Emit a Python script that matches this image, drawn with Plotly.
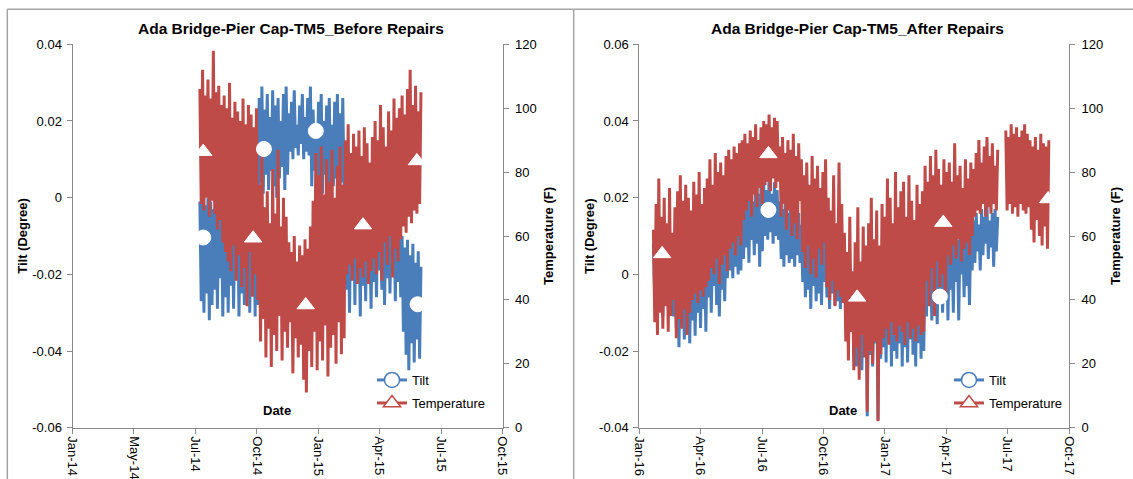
import pandas as pd
import plotly.graph_objects as go

# ---------------- data: before repairs (one reading every 2 days, alternating daily high / low) ----------------
before_start = "2014-07-09"
before_step = "2D"
before_tilt = [
    -0.001, -0.027, 0.001, -0.030, -0.002, -0.025, 0.000, -0.032, -0.001, -0.028,
    -0.003, -0.024, 0.001, -0.029, -0.002, -0.021, -0.004, -0.031, 0.002, -0.026,
    -0.001, -0.030, -0.003, -0.023, -0.002, -0.029, -0.004, -0.021, 0.000, -0.031,
    -0.003, -0.025, -0.001, -0.028, -0.004, -0.020, -0.002, -0.030, 0.000, -0.024,
    -0.003, -0.031, 0.022, -0.028, 0.026, 0.004, 0.029, 0.001, 0.023, 0.006,
    0.027, 0.002, 0.021, 0.007, 0.028, 0.003, 0.024, 0.000, 0.026, 0.005,
    0.020, 0.008, 0.027, 0.002, 0.029, 0.006, 0.022, 0.012, 0.025, 0.010,
    0.028, 0.013, 0.019, 0.011, 0.024, 0.014, 0.027, 0.010, 0.021, 0.012,
    0.026, 0.011, 0.029, 0.003, 0.023, 0.007, 0.018, 0.002, 0.025, 0.005,
    0.027, 0.001, 0.020, 0.006, 0.024, 0.000, 0.026, 0.004, 0.019, 0.003,
    0.025, 0.005, 0.027, 0.001, 0.022, 0.004, 0.026, 0.002, -0.003, -0.024,
    0.001, -0.030, -0.005, -0.021, -0.002, -0.028, 0.002, -0.019, -0.006, -0.031,
    -0.001, -0.023, -0.004, -0.027, 0.000, -0.020, -0.007, -0.029, -0.003, -0.022,
    -0.005, -0.026, -0.002, -0.019, -0.008, -0.024, -0.003, -0.028, -0.006, -0.021,
    -0.001, -0.025, -0.007, -0.018, -0.004, -0.027, -0.002, -0.022, -0.008, -0.026,
    -0.010, -0.035, -0.013, -0.041, -0.011, -0.045, -0.015, -0.038, -0.012, -0.043,
    -0.017, -0.037, -0.014, -0.042, -0.018,
]
before_temp = [
    106, 70, 112, 68, 104, 72, 109, 66, 103, 71,
    118, 67, 105, 62, 107, 65, 101, 58, 104, 55,
    100, 52, 108, 49, 97, 57, 102, 46, 99, 54,
    96, 44, 103, 50, 95, 38, 101, 55, 98, 41,
    94, 48, 100, 40, 76, 27, 86, 34, 69, 22,
    74, 31, 64, 19, 81, 29, 67, 24, 87, 35,
    63, 21, 72, 30, 66, 25, 58, 33, 55, 17,
    60, 28, 52, 22, 57, 26, 54, 15, 59, 11,
    56, 24, 63, 19, 71, 30, 86, 18, 79, 27,
    88, 21, 73, 32, 84, 16, 77, 25, 87, 29,
    72, 20, 82, 33, 88, 23, 76, 28, 90, 48,
    95, 51, 86, 46, 92, 53, 88, 45, 93, 50,
    85, 47, 94, 52, 89, 45, 83, 49, 91, 53,
    96, 48, 90, 55, 101, 46, 94, 58, 88, 51,
    99, 60, 93, 47, 103, 56, 97, 52, 100, 59,
    104, 63, 98, 61, 106, 66, 112, 64, 101, 68,
    107, 67, 99, 70, 105,
]
before_tilt_marker_dates = ["2014-07-14", "2014-10-12", "2014-12-28", "2015-05-28"]
before_tilt_marker_values = [-0.0104, 0.0127, 0.0174, -0.0278]
before_temp_marker_dates = ["2014-07-14", "2014-09-26", "2014-12-13", "2015-03-08", "2015-05-27"]
before_temp_marker_values = [86.4, 59.3, 38.4, 63.4, 83.5]
before_x_range = ["2014-01-01", "2015-10-01"]
before_x_labels = ["Jan-14", "May-14", "Jul-14", "Oct-14", "Jan-15", "Apr-15", "Jul-15", "Oct-15"]
before_tilt_ticks = [-0.06, -0.04, -0.02, 0, 0.02, 0.04]
before_tilt_labels = ["-0.06", "-0.04", "-0.02", "0", "0.02", "0.04"]

# ---------------- data: after repairs ----------------
after_start = "2016-01-22"
after_step = "2D"
after_tilt = [
    0.008, -0.007, 0.005, -0.010, 0.009, -0.005, 0.004, -0.011, 0.007, -0.008,
    0.010, -0.006, 0.005, -0.009, 0.006, -0.011, 0.003, -0.014, 0.001, -0.019,
    0.005, -0.013, 0.000, -0.017, 0.004, -0.015, 0.006, -0.018, 0.003, -0.012,
    0.007, -0.016, 0.002, -0.010, 0.008, -0.014, 0.004, -0.009, 0.006, -0.015,
    0.008, -0.006, 0.011, -0.010, 0.007, -0.003, 0.010, -0.008, 0.012, -0.011,
    0.006, -0.004, 0.009, -0.007, 0.012, -0.001, 0.014, 0.001, 0.011, -0.001,
    0.016, 0.002, 0.013, 0.000, 0.015, 0.001, 0.019, 0.004, 0.021, 0.007,
    0.020, 0.003, 0.023, 0.009, 0.019, 0.005, 0.022, 0.008, 0.021, 0.002,
    0.023, 0.006, 0.024, 0.010, 0.022, 0.009, 0.025, 0.011, 0.021, 0.008,
    0.024, 0.010, 0.022, 0.009, 0.019, 0.004, 0.017, 0.002, 0.020, 0.005,
    0.016, 0.003, 0.018, 0.004, 0.015, 0.002, 0.019, 0.005, 0.016, 0.003,
    0.013, -0.002, 0.011, -0.006, 0.014, -0.004, 0.009, -0.009, 0.012, -0.003,
    0.010, -0.007, 0.013, -0.005, 0.008, -0.008, 0.011, -0.002, 0.009, -0.006,
    0.007, -0.009, 0.010, -0.005, 0.006, -0.008, 0.009, -0.007, 0.005, -0.009,
    0.008, -0.006, 0.004, -0.013, 0.002, -0.018, 0.003, -0.015, -0.001, -0.021,
    0.001, -0.024, -0.002, -0.017, 0.003, -0.025, 0.000, -0.019, 0.002, -0.037,
    -0.003, -0.021, 0.001, -0.024, -0.004, -0.018, 0.000, -0.038, -0.002, -0.022,
    0.002, -0.019, -0.001, -0.023, 0.004, -0.017, 0.001, -0.024, 0.006, -0.020,
    0.003, -0.022, 0.007, -0.018, 0.002, -0.024, 0.005, -0.019, 0.000, -0.023,
    0.004, -0.017, 0.006, -0.021, 0.002, -0.024, 0.007, -0.018, 0.003, -0.022,
    0.005, -0.020, 0.006, -0.011, 0.008, -0.006, 0.004, -0.012, 0.007, -0.008,
    0.005, -0.013, 0.008, -0.005, 0.006, -0.010, 0.004, -0.007, 0.009, -0.012,
    0.010, -0.004, 0.008, -0.010, 0.012, -0.002, 0.009, -0.012, 0.011, 0.000,
    0.010, -0.006, 0.012, -0.003, 0.009, -0.008, 0.011, 0.001, 0.014, 0.003,
    0.016, 0.006, 0.013, 0.001, 0.017, 0.005, 0.015, 0.008, 0.018, 0.004,
    0.014, 0.007, 0.016, 0.002, 0.017, 0.006, 0.015,
]
after_temp = [
    62, 33, 70, 29, 78, 36, 66, 31, 72, 38,
    64, 30, 75, 35, 61, 40, 69, 28, 74, 34,
    79, 31, 71, 37, 76, 29, 72, 36, 68, 40,
    77, 42, 73, 39, 80, 43, 70, 41, 75, 44,
    78, 46, 84, 50, 76, 48, 86, 53, 80, 45,
    83, 51, 79, 54, 85, 49, 87, 56, 84, 58,
    88, 54, 86, 60, 89, 57, 90, 65, 92, 68,
    89, 71, 93, 66, 91, 73, 95, 69, 90, 75,
    94, 70, 96, 76, 95, 77, 98, 74, 94, 78,
    97, 75, 96, 77, 88, 66, 91, 70, 86, 62,
    90, 68, 87, 60, 92, 64, 85, 59, 89, 71,
    84, 55, 79, 50, 83, 57, 76, 48, 85, 53,
    78, 47, 82, 56, 75, 51, 80, 58, 84, 44,
    72, 40, 68, 46, 79, 38, 64, 43, 83, 41,
    70, 39, 61, 27, 55, 21, 66, 30, 49, 18,
    58, 25, 69, 15, 52, 29, 63, 22, 57, 5,
    64, 24, 72, 20, 59, 27, 68, 2, 57, 23,
    70, 28, 66, 31, 78, 26, 72, 33, 64, 29,
    80, 27, 69, 32, 74, 30, 77, 26, 66, 33,
    79, 28, 71, 31, 65, 27, 76, 32, 70, 29,
    74, 30, 82, 46, 77, 38, 85, 50, 79, 35,
    87, 52, 81, 44, 76, 48, 84, 40, 80, 54,
    83, 51, 77, 57, 89, 53, 79, 59, 82, 52,
    75, 56, 84, 58, 78, 54, 83, 60, 81, 66,
    86, 68, 90, 67, 83, 70, 88, 66, 91, 69,
    85, 67, 89, 70, 82, 68, 87,
    None, None, None, None, None,
    93, 68, 91, 70, 95, 67, 92, 69, 94, 66,
    91, 70, 93, 68, 95, 67, 92, 69, 90,
    62, 88, 58, 91, 65, 87, 60, 92, 57, 89,
    63, 88, 56, 90,
]
after_tilt_marker_dates = ["2016-07-11", "2017-03-23"]
after_tilt_marker_values = [0.0168, -0.0058]
after_temp_marker_dates = ["2016-02-04", "2016-07-11", "2016-11-20", "2017-03-28", "2017-08-31"]
after_temp_marker_values = [54.4, 85.7, 40.8, 64.2, 71.6]
after_x_range = ["2016-01-01", "2017-10-01"]
after_x_labels = ["Jan-16", "Apr-16", "Jul-16", "Oct-16", "Jan-17", "Apr-17", "Jul-17", "Oct-17"]
after_tilt_ticks = [-0.04, -0.02, 0, 0.02, 0.04, 0.06]
after_tilt_labels = ["-0.04", "-0.02", "0", "0.02", "0.04", "0.06"]

temp_ticks = [0, 20, 40, 60, 80, 100, 120]
temp_labels = ["0", "20", "40", "60", "80", "100", "120"]

titles = ["Ada Bridge-Pier Cap-TM5_Before Repairs", "Ada Bridge-Pier Cap-TM5_After Repairs"]
series_names = ["Tilt", "Temperature"]

# ---------------- styling ----------------
W, H = 1133, 479
BLUE = "#4A7EBB"
RED = "#BE4B48"
AXC = "#898989"
FONT = "Liberation Sans, Arial, sans-serif"


def px(x):
    return x / W


def py(y):
    return 1 - y / H


before_dates = pd.date_range(before_start, periods=len(before_tilt), freq=before_step)
after_tilt_dates = pd.date_range(after_start, periods=len(after_tilt), freq=after_step)
after_temp_dates = pd.date_range(after_start, periods=len(after_temp), freq=after_step)

fig = go.Figure()


def add_panel(xa, ya, ya2, yam, dates_t, tilt, dates_T, temp, mt_d, mt_v, mT_d, mT_v, leg1, leg2):
    fig.add_trace(go.Scatter(x=dates_t, y=tilt, mode="lines", line=dict(color=BLUE, width=3),
                             xaxis=xa, yaxis=ya, showlegend=False, hoverinfo="skip"))
    fig.add_trace(go.Scatter(x=dates_T, y=temp, mode="lines", line=dict(color=RED, width=3),
                             xaxis=xa, yaxis=ya2, showlegend=False, hoverinfo="skip",
                             connectgaps=False))
    fig.add_trace(go.Scatter(x=mT_d, y=mT_v, mode="markers",
                             marker=dict(symbol="triangle-up", size=15, color="white",
                                         line=dict(color="white", width=1)),
                             xaxis=xa, yaxis=ya2, showlegend=False, hoverinfo="skip"))
    fig.add_trace(go.Scatter(x=mt_d, y=mt_v, mode="markers",
                             marker=dict(symbol="circle", size=15, color="white",
                                         line=dict(color="white", width=1)),
                             xaxis=xa, yaxis=yam, showlegend=False, hoverinfo="skip"))
    fig.add_trace(go.Scatter(x=[None], y=[None], mode="lines+markers", name=series_names[0],
                             line=dict(color=BLUE, width=3),
                             marker=dict(symbol="circle", size=15, color="white",
                                         line=dict(color=BLUE, width=1.5)),
                             xaxis=xa, yaxis=ya, legend=leg1, showlegend=True))
    fig.add_trace(go.Scatter(x=[None], y=[None], mode="lines+markers", name=series_names[1],
                             line=dict(color=RED, width=3),
                             marker=dict(symbol="triangle-up", size=15, color="white",
                                         line=dict(color=RED, width=1.5)),
                             xaxis=xa, yaxis=ya2, legend=leg2, showlegend=True))


add_panel("x", "y", "y2", "y5", before_dates, before_tilt, before_dates, before_temp,
          before_tilt_marker_dates, before_tilt_marker_values,
          before_temp_marker_dates, before_temp_marker_values, "legend", "legend2")
add_panel("x2", "y3", "y4", "y6", after_tilt_dates, after_tilt, after_temp_dates, after_temp,
          after_tilt_marker_dates, after_tilt_marker_values,
          after_temp_marker_dates, after_temp_marker_values, "legend3", "legend4")

L_dom = [px(72.5), px(502.5)]
R_dom = [px(639.3), px(1069)]
Y_dom = [py(427.7), py(44.3)]

tickfont = dict(family=FONT, size=13, color="#000000")
common_axis = dict(showline=True, linecolor=AXC, linewidth=1, ticks="outside", ticklen=5,
                   tickcolor=AXC, tickwidth=1, showgrid=False, zeroline=False,
                   tickfont=tickfont, fixedrange=True, automargin=False)


def xaxis_cfg(dom, rng, labels, anchor):
    vals = pd.date_range(rng[0], rng[1], periods=len(labels))
    return dict(common_axis, type="date", domain=dom, range=rng, tickmode="array",
                tickvals=list(vals), ticktext=labels, tickangle=90, anchor=anchor)


fig.update_layout(
    width=W, height=H, margin=dict(l=0, r=0, t=0, b=0, pad=0, autoexpand=False),
    paper_bgcolor="white", plot_bgcolor="white",
    font=dict(family=FONT, size=13, color="#000000"),
    xaxis=xaxis_cfg(L_dom, before_x_range, before_x_labels, "y"),
    xaxis2=xaxis_cfg(R_dom, after_x_range, after_x_labels, "y3"),
    yaxis=dict(common_axis, domain=Y_dom, range=[-0.06, 0.04], tickmode="array",
               tickvals=before_tilt_ticks, ticktext=before_tilt_labels, anchor="x",
               ticklabelstandoff=2),
    yaxis2=dict(common_axis, overlaying="y", side="right", range=[0, 120], tickmode="array",
                tickvals=temp_ticks, ticktext=temp_labels, anchor="x", ticklabelstandoff=4),
    yaxis5=dict(overlaying="y", range=[-0.06, 0.04], visible=False, anchor="x", fixedrange=True),
    yaxis3=dict(common_axis, domain=Y_dom, range=[-0.04, 0.06], tickmode="array",
                tickvals=after_tilt_ticks, ticktext=after_tilt_labels, anchor="x2",
                ticklabelstandoff=2),
    yaxis4=dict(common_axis, overlaying="y3", side="right", range=[0, 120], tickmode="array",
                tickvals=temp_ticks, ticktext=temp_labels, anchor="x2", ticklabelstandoff=4),
    yaxis6=dict(overlaying="y3", range=[-0.04, 0.06], visible=False, anchor="x2", fixedrange=True),
    showlegend=True,
)

leg_common = dict(bgcolor="rgba(0,0,0,0)", font=dict(family=FONT, size=13, color="#000000"),
                  xanchor="left", yanchor="middle", borderwidth=0)
fig.update_layout(
    legend=dict(leg_common, x=px(372), y=py(380)),
    legend2=dict(leg_common, x=px(372), y=py(403)),
    legend3=dict(leg_common, x=px(949), y=py(380)),
    legend4=dict(leg_common, x=px(949), y=py(403)),
)

annotations = []
for cx, title in [(290.5, titles[0]), (857.4, titles[1])]:
    annotations.append(dict(text="<b>%s</b>" % title, x=px(cx), y=py(29), xref="paper", yref="paper",
                            showarrow=False, xanchor="center", yanchor="middle",
                            font=dict(family=FONT, size=15.5, color="#000000")))
for cx in [21.8, 589]:
    annotations.append(dict(text="<b>Tilt (Degree)</b>", x=px(cx), y=py(236), xref="paper", yref="paper",
                            showarrow=False, textangle=-90, xanchor="center", yanchor="middle",
                            font=dict(family=FONT, size=13, color="#000000")))
for cx in [548, 1115]:
    annotations.append(dict(text="<b>Temperature (F)</b>", x=px(cx), y=py(236), xref="paper", yref="paper",
                            showarrow=False, textangle=-90, xanchor="center", yanchor="middle",
                            font=dict(family=FONT, size=13, color="#000000")))
for cx in [276.6, 843]:
    annotations.append(dict(text="<b>Date</b>", x=px(cx), y=py(410.5), xref="paper", yref="paper",
                            showarrow=False, xanchor="center", yanchor="middle",
                            font=dict(family=FONT, size=13, color="#000000")))
fig.update_layout(annotations=annotations)

BORDER = "#A5A5A5"
shapes = [
    dict(type="line", xref="paper", yref="paper", x0=px(7.3), x1=1.0, y0=py(9.3), y1=py(9.3),
         line=dict(color=BORDER, width=1.5)),
    dict(type="line", xref="paper", yref="paper", x0=px(7.3), x1=px(7.3), y0=py(9.3), y1=0,
         line=dict(color=BORDER, width=1.5)),
    dict(type="line", xref="paper", yref="paper", x0=px(573.7), x1=px(573.7), y0=py(9.3), y1=0,
         line=dict(color=BORDER, width=1.5)),
]
fig.update_layout(shapes=shapes)

fig.write_html(
    "out.html",
    config={"displayModeBar": False},
    post_script="document.body.style.margin='0px';document.body.style.overflow='hidden';",
)
